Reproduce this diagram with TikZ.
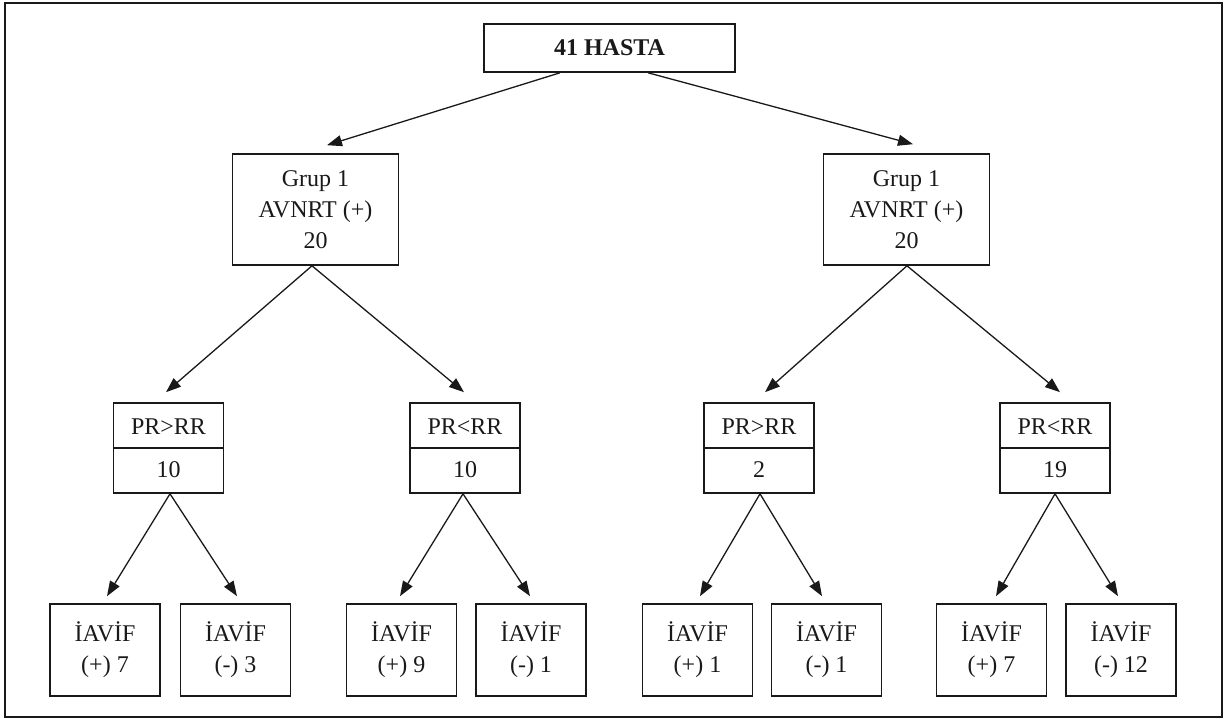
\documentclass[tikz,border=0pt]{standalone}
\usepackage{fontspec}
\setmainfont{Liberation Serif}
\usetikzlibrary{arrows.meta,calc}
\begin{document}
\begin{tikzpicture}[x=1pt,y=-1pt,
  every node/.style={font=\fontsize{24pt}{31pt}\selectfont, text=black!90},
  box/.style={draw=black!90, line width=1.6pt, rectangle, inner sep=0pt, align=center},
  grupbox/.style={box, minimum width=166pt, minimum height=111pt},
  prbox/.style={box, minimum width=110pt, minimum height=90pt},
  leafbox/.style={box, minimum width=110pt, minimum height=92pt},
  lbl/.style={inner sep=0pt},
  arr/.style={draw=black!90, line width=1.3pt, -{Triangle[length=15pt,width=11pt]}}
]
\useasboundingbox (0,0) rectangle (1227,719);
\draw[line width=2.6pt, draw=black!90] (5,3) rectangle (1222,717);

% top
\node[box, minimum width=251pt, minimum height=48pt, font=\fontsize{24pt}{31pt}\selectfont\bfseries] (top) at (609.5,48) {41 HASTA};

% groups
\node[grupbox] (gL) at (315.5,209.5) {Grup 1\\AVNRT (+)\\20};
\node[grupbox] (gR) at (906.5,209.5) {Grup 1\\AVNRT (+)\\20};

% PR boxes
\foreach \n/\x/\t/\v in {pL1/168.5/PR>RR/10, pL2/465/PR<RR/10, pR1/759/PR>RR/2, pR2/1055/PR<RR/19}{
  \node[prbox] (\n) at (\x,448) {};
  \draw[line width=1.6pt, draw=black!90] (\n.west) -- (\n.east);
  \node[lbl] (\n t) at ($(\n.center)+(0,-21)$) {\t};
  \node[lbl] (\n v) at ($(\n.center)+(0,22)$) {\v};
}

% leaves
\foreach \n/\x/\s in {a/105/(+) 7, b/235.5/(-) 3, c/401.5/(+) 9, d/531/(-) 1, e/697.5/(+) 1, f/826.5/(-) 1, g/991.5/(+) 7, h/1121/(-) 12}{
  \node[leafbox] (\n) at (\x,650) {İAVİF\\\s};
}

% arrows top
\draw[arr] ([xshift=-49.5pt]top.south) -- ([xshift=11.5pt,yshift=8pt]gL.north);
\draw[arr] ([xshift=38.5pt]top.south) -- ([xshift=6.5pt,yshift=9pt]gR.north);

% arrows groups
\draw[arr] ([xshift=-3.5pt]gL.south) -- ([xshift=-2.5pt,yshift=10pt]pL1.north);
\draw[arr] ([xshift=-3.5pt]gL.south) -- ([xshift=-1pt,yshift=10pt]pL2.north);
\draw[arr] ([xshift=0.5pt]gR.south) -- ([xshift=6pt,yshift=10pt]pR1.north);
\draw[arr] ([xshift=0.5pt]gR.south) -- ([xshift=5pt,yshift=10pt]pR2.north);

% arrows PR to leaves
\draw[arr] ([xshift=1.5pt]pL1.south) -- ([xshift=2pt,yshift=7pt]a.north);
\draw[arr] ([xshift=1.5pt]pL1.south) -- ([xshift=1.5pt,yshift=7pt]b.north);
\draw[arr] ([xshift=-2pt]pL2.south) -- ([xshift=-1.5pt,yshift=7pt]c.north);
\draw[arr] ([xshift=-2pt]pL2.south) -- ([xshift=-1pt,yshift=7pt]d.north);
\draw[arr] ([xshift=1pt]pR1.south) -- ([xshift=2.5pt,yshift=7pt]e.north);
\draw[arr] ([xshift=1pt]pR1.south) -- ([xshift=-4.5pt,yshift=7pt]f.north);
\draw[arr] (pR2.south) -- ([xshift=4.5pt,yshift=7pt]g.north);
\draw[arr] (pR2.south) -- ([xshift=-3pt,yshift=7pt]h.north);
\end{tikzpicture}
\end{document}
